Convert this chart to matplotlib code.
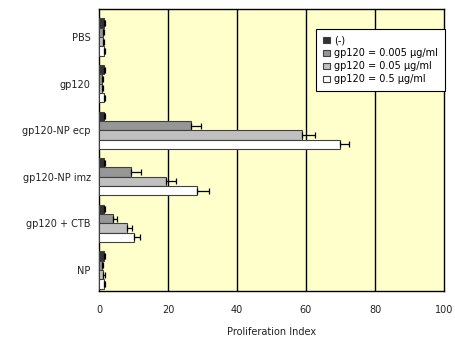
import matplotlib
matplotlib.use("Agg")
import matplotlib.pyplot as plt
import numpy as np

categories = ["PBS", "gp120", "gp120-NP ecp", "gp120-NP imz", "gp120 + CTB", "NP"]
series_names = ["(-)", "gp120 = 0.005 µg/ml", "gp120 = 0.05 µg/ml", "gp120 = 0.5 µg/ml"]
values = [
    [1.5, 1.5, 1.5, 1.5, 1.5, 1.5],      # (-)
    [1.2, 1.0, 26.7, 9.2, 4.1, 1.0],     # 0.005
    [1.2, 1.0, 58.8, 19.5, 8.2, 1.3],    # 0.05
    [1.5, 1.5, 69.8, 28.4, 10.1, 1.5],   # 0.5
]
errors = [
    [0.3, 0.3, 0.2, 0.2, 0.2, 0.3],
    [0.3, 0.2, 3.0, 3.1, 1.2, 0.2],
    [0.2, 0.2, 3.8, 2.9, 1.4, 0.4],
    [0.2, 0.2, 2.6, 3.4, 1.9, 0.2],
]
colors = ["#333333", "#969696", "#c0c0c0", "#ffffff"]

fig = plt.figure(figsize=(4.55, 3.38), dpi=100)
ax = fig.add_axes([99/455, 1-291/338, (444-99)/455, (291-9)/338])
ax.set_facecolor("#ffffcc")

y = np.arange(len(categories))
h = 0.2
offs = [-0.3, -0.1, 0.1, 0.3]
for i in range(4):
    ax.barh(y + offs[i], values[i], height=h, color=colors[i], edgecolor="#404040",
            linewidth=0.8, label=series_names[i], zorder=3)
    ax.errorbar(values[i], y + offs[i], xerr=[np.zeros(len(categories)), errors[i]],
                fmt="none", ecolor="black", elinewidth=0.9, capsize=2.5, capthick=0.9, zorder=4)

ax.set_xlim(0, 100)
ax.set_ylim(5.45, -0.6)
ax.set_xticks([0, 20, 40, 60, 80, 100])
ax.set_yticks(y)
ax.set_yticklabels(categories)
ax.tick_params(axis="both", length=0, labelsize=7, colors="#222222")
ax.tick_params(axis="x", pad=10)
ax.tick_params(axis="y", pad=6)
for xv in [20, 40, 60, 80]:
    ax.axvline(xv, color="black", linewidth=1.0, zorder=1)
for s in ax.spines.values():
    s.set_color("black")
    s.set_linewidth(1.0)
ax.set_xlabel("Proliferation Index", fontsize=7, color="#222222", labelpad=9)

leg = ax.legend(loc="upper right", bbox_to_anchor=(1.003, 0.93), fontsize=7,
                frameon=True, fancybox=False, edgecolor="black", framealpha=1,
                handlelength=0.8, handleheight=0.55, handletextpad=0.4,
                labelspacing=0.3, borderpad=0.7, borderaxespad=0)
leg.get_frame().set_linewidth(0.8)
leg.set_zorder(5)

fig.savefig("out.png", dpi=100)
